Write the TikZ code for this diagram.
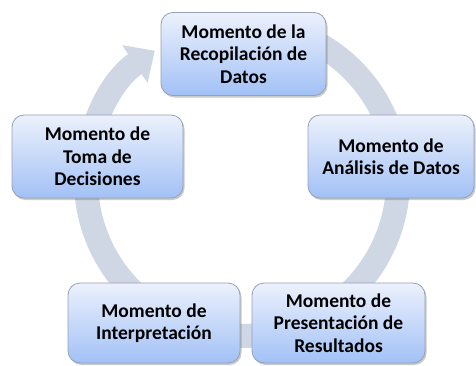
\documentclass[tikz,border=0pt]{standalone}
\usepackage{fontspec}
\setmainfont{Carlito}
\usetikzlibrary{arrows.meta,shadows}
\definecolor{ringgray}{RGB}{207,215,229}
\definecolor{boxtop}{RGB}{236,241,252}
\definecolor{boxbottom}{RGB}{162,193,246}
\definecolor{boxline}{RGB}{150,160,178}

\begin{document}
\begin{tikzpicture}[x=1pt,y=1pt]
                      \tikzstyle{momento}=[rectangle,rounded corners=12pt,draw=boxline,line width=0.8pt,top color=boxtop,bottom color=boxbottom,minimum width=168pt,minimum height=83pt,align=center,font=\fontsize{19.5}{22.5}\selectfont\bfseries,drop shadow={shadow xshift=1.5pt,shadow yshift=-2pt,opacity=0.35,fill=black!60}]
                      \useasboundingbox (0,0) rectangle (476,365);
                      \coordinate (centro) at (242,185);
                      \draw[ringgray,line width=24pt,-{Triangle[width=44pt,length=24pt]}] (centro) ++(95:156) arc[start angle=95,end angle=-236,radius=156];
                      \node[momento,minimum width=165pt] (recopilacion) at (243.5,311) {Momento de la\\Recopilación de\\Datos};
                      \node[momento,minimum width=166pt] (analisis) at (391,208.5) {Momento de\\Análisis de Datos};
                      \node[momento,minimum width=173pt,minimum height=80pt] (presentacion) at (338.5,42) {Momento de\\Presentación de\\Resultados};
                      \node[momento,minimum width=172pt,minimum height=80pt] (interpretacion) at (154,42) {Momento de\\Interpretación};
                      \node[momento,minimum width=171pt] (decisiones) at (97.5,208.5) {Momento de\\Toma de\\Decisiones};
                  \end{tikzpicture}
\end{document}
